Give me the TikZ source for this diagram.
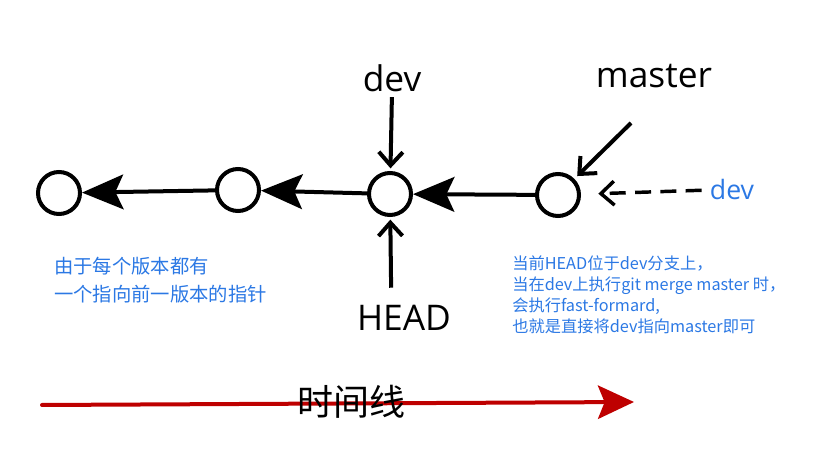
\documentclass[tikz,border=0pt]{standalone}
\usepackage{fontspec}
\setmainfont{Open Sans}
\newfontfamily\cjk{Noto Sans CJK SC}
\usetikzlibrary{arrows.meta}
\definecolor{noteblue}{HTML}{2B78E4}
\definecolor{timered}{HTML}{BE0000}
\begin{document}
\begin{tikzpicture}[x=0.75pt,y=-0.75pt,
  commit/.style={circle,draw=black,line width=3pt,minimum size=31.5pt,inner sep=0pt},
  parent/.style={line width=3pt,-{Stealth[length=31pt,width=26pt,inset=6pt]}},
  ptr/.style={line width=3pt,-{Straight Barb[length=10pt,width=18pt]}},
  biglabel/.style={inner sep=0pt,font=\fontsize{26.5}{30}\selectfont},
  note/.style={inner sep=0pt,align=left,text=noteblue}
]
\useasboundingbox (0,0) rectangle (840,470);
% commits
\node[commit] (c1) at (59,193) {};
\node[commit] (c2) at (238,190) {};
\node[commit] (c3) at (390,194) {};
\node[commit] (c4) at (558,195) {};
% parent arrows
\draw[parent] (c2) -- (c1);
\draw[parent] (c3) -- (c2);
\draw[parent] (c4) -- (c3);
% labels
\node[biglabel] (dev) at (392,78) {dev};
\node[biglabel] (head) at (404,318) {HEAD};
\node[biglabel] (master) at (654,76) {master};
\node[inner sep=0pt,text=noteblue,font=\fontsize{20}{24}\selectfont] (devb) at (732,190) {dev};
\draw[ptr,shorten <=4pt,shorten >=2pt] (dev.south) -- (c3);
\draw[ptr,shorten <=13pt,shorten >=2pt] ([xshift=-9.5pt]head.north) -- (c3);
\coordinate (mtail) at (631,123);
\draw[ptr,shorten >=3pt] (mtail) -- (c4);
\draw[ptr,dashed,dash pattern=on 12pt off 7pt,line width=2.6pt,shorten <=6pt,shorten >=13pt] (devb.west) -- (c4);
% notes
\node[note,anchor=north west,font=\cjk\fontsize{14.5}{21}\selectfont] (lnote) at (54,257)
  {由于每个版本都有\\一个指向前一版本的指针};
\node[note,anchor=north west,font=\cjk\fontsize{12.2}{15.75}\selectfont] (rnote) at (512,255)
  {当前HEAD位于dev分支上，\\当在dev上执行git merge master 时，\\会执行fast-formard,\\也就是直接将dev指向master即可};
% timeline
\coordinate (t0) at (42,405);
\coordinate (t1) at (634,402);
\draw[timered,line width=3pt,line cap=round,-{Stealth[length=27pt,width=25pt,inset=5pt]}] (t0) -- (t1);
\node[inner sep=0pt,font=\cjk\fontsize{27}{30}\selectfont] (tl) at (351,402) {时间线};
\end{tikzpicture}
\end{document}
